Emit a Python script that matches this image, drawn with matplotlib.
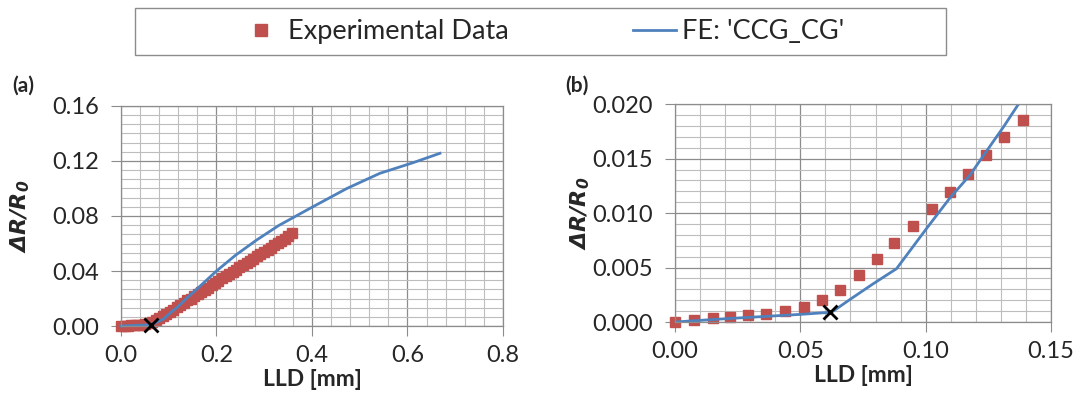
import matplotlib
matplotlib.use("Agg")
import matplotlib.pyplot as plt
from matplotlib.patches import Rectangle
from matplotlib.ticker import MultipleLocator, FormatStrFormatter

plt.rcParams['font.family'] = ['Lato', 'DejaVu Sans']

exp_x = [0.0, 0.0076, 0.0151, 0.0220, 0.0293, 0.0364, 0.0437, 0.0513, 0.0586, 0.0660,
         0.0733, 0.0804, 0.0874, 0.0950, 0.1025, 0.1097, 0.1170, 0.1241, 0.1314, 0.1390,
         0.146, 0.153, 0.161, 0.168, 0.175, 0.183, 0.190, 0.197, 0.204, 0.212,
         0.219, 0.226, 0.234, 0.241, 0.248, 0.256, 0.263, 0.270, 0.277, 0.285,
         0.292, 0.299, 0.307, 0.314, 0.321, 0.329, 0.336, 0.343, 0.350, 0.358]
exp_y = [0.0, 0.00015, 0.00034, 0.0005, 0.0006, 0.00076, 0.00104, 0.0014, 0.0020, 0.0029,
         0.0043, 0.0058, 0.0073, 0.0088, 0.0104, 0.0119, 0.0136, 0.0153, 0.0170, 0.0186,
         0.0200, 0.0215, 0.0231, 0.0247, 0.0263, 0.0280, 0.0297, 0.0313, 0.0330, 0.0346,
         0.0362, 0.0378, 0.0394, 0.0410, 0.0426, 0.0442, 0.0458, 0.0474, 0.0490, 0.0506,
         0.0522, 0.0538, 0.0554, 0.0570, 0.0586, 0.0602, 0.0618, 0.0635, 0.0652, 0.0680]

# FE model 'CCG_CG'
fe_x = [0.0, 0.02, 0.05, 0.0625, 0.0700, 0.0790, 0.0884, 0.1004, 0.1097, 0.1177, 0.1243,
        0.1310, 0.1370, 0.160, 0.200, 0.240, 0.284, 0.330, 0.396, 0.473, 0.542, 0.612, 0.668]
fe_y = [0.0, 0.0003, 0.0007, 0.0009, 0.0021, 0.0035, 0.0049, 0.0086, 0.0114, 0.0135, 0.0157,
        0.0179, 0.0200, 0.0272, 0.0400, 0.0515, 0.0625, 0.0730, 0.0856, 0.1000, 0.1110, 0.1188, 0.1256]

# damage initiation point
cross_x = [0.062]
cross_y = [0.0009]

red = '#C0504D'
blue = '#4F81BD'
txt = '#262626'
gridc = '#8c8c8c'

fig = plt.figure(figsize=(10.8, 4.01), dpi=100)
ax1 = fig.add_axes([0.1120, 0.1870, 0.3537, 0.5487])
ax2 = fig.add_axes([0.6250, 0.1970, 0.3481, 0.5429])


def style(ax, xlim, ylim, xmaj, xmin, ymaj, ymin, xfmt, yfmt, ylpad):
    ax.set_xlim(*xlim)
    ax.set_ylim(*ylim)
    ax.xaxis.set_major_locator(MultipleLocator(xmaj))
    ax.xaxis.set_minor_locator(MultipleLocator(xmin))
    ax.yaxis.set_major_locator(MultipleLocator(ymaj))
    ax.yaxis.set_minor_locator(MultipleLocator(ymin))
    ax.xaxis.set_major_formatter(FormatStrFormatter(xfmt))
    ax.yaxis.set_major_formatter(FormatStrFormatter(yfmt))
    ax.grid(which='major', color=gridc, lw=0.9)
    ax.grid(which='minor', color='#bdbdbd', lw=0.8)
    ax.set_axisbelow(True)
    for s in ax.spines.values():
        s.set_color(gridc)
        s.set_linewidth(0.9)
    ax.tick_params(which='major', direction='out', length=7, color=gridc,
                   labelsize=17, labelcolor=txt)
    ax.tick_params(axis='x', which='major', pad=7)
    ax.tick_params(axis='y', which='major', pad=9)
    ax.tick_params(which='minor', length=0)
    ax.set_xlabel('LLD [mm]', fontsize=16.5, fontweight='bold', color=txt, labelpad=2)
    ax.set_ylabel(r'$\mathbfit{\Delta R/R_0}$', fontsize=16, color=txt, labelpad=ylpad)


style(ax1, (0, 0.8), (0, 0.16), 0.2, 0.04, 0.04, 0.04 / 6, '%.1f', '%.2f', 14)
style(ax2, (0, 0.15), (0, 0.02), 0.05, 0.01, 0.005, 0.001, '%.2f', '%.3f', 0)

ax1.plot(exp_x, exp_y, 's', color=red, ms=7, clip_on=False)
ax1.plot(fe_x, fe_y, '-', color=blue, lw=2, clip_on=False)
ax1.plot(cross_x, cross_y, 'x', color='black', ms=10, mew=2, clip_on=False, zorder=5)

# panel (b) is a zoom on the first part of the test
bx = [x for x in exp_x if x <= 0.14]
by = exp_y[:len(bx)]
ax2.plot(bx, by, 's', color=red, ms=6.5, ls='none', clip_on=False, label='Experimental Data')
ax2.plot(fe_x, fe_y, '-', color=blue, lw=2, label="FE: 'CCG_CG'")
ax2.plot(cross_x, cross_y, 'x', color='black', ms=10, mew=2, clip_on=False, zorder=5)

fig.text(0.011, 0.772, '(a)', fontsize=15, fontweight='bold', color=txt)
fig.text(0.523, 0.772, '(b)', fontsize=15, fontweight='bold', color=txt)

# legend box
fig.add_artist(Rectangle((0.1250, 0.8628), 0.7509, 0.1172, transform=fig.transFigure,
                         fill=False, edgecolor=gridc, lw=1.0))
handles, labels = ax2.get_legend_handles_labels()
leg = fig.legend(handles, labels, loc='center', bbox_to_anchor=(0.5015, 0.921), ncol=2,
                 fontsize=19.5, frameon=False, borderpad=0.3, columnspacing=4.6,
                 handlelength=1.6, handletextpad=0.2, markerscale=1.3)
for t in leg.get_texts():
    t.set_color(txt)

fig.savefig('out.png', dpi=100)
